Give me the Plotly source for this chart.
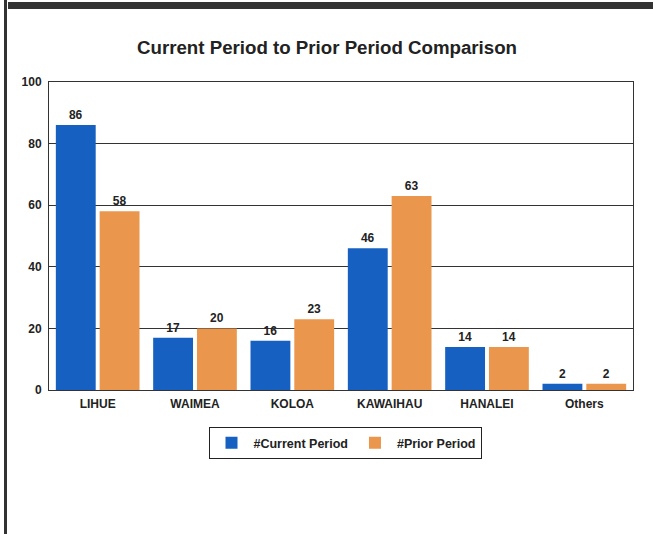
import plotly.graph_objects as go

# data
districts = ["LIHUE", "WAIMEA", "KOLOA", "KAWAIHAU", "HANALEI", "Others"]
current_period = [86, 17, 16, 46, 14, 2]
prior_period = [58, 20, 23, 63, 14, 2]

W, H = 653, 534
ml, mr, mt, mb = 49, 20, 82, 144
pw, ph = W - ml - mr, H - mt - mb


# pixel -> paper helpers for the frame decorations
def px_x(x):
    return (x - ml) / pw


def px_y(y):
    return (H - mb - y) / ph


fig = go.Figure()
fig.add_trace(
    go.Bar(
        x=districts,
        y=current_period,
        name="#Current Period",
        marker=dict(color="#1660c2", line=dict(width=0)),
        text=current_period,
        textposition="outside",
        textfont=dict(size=12, color="#222", weight="bold"),
        cliponaxis=False,
    )
)
fig.add_trace(
    go.Bar(
        x=districts,
        y=prior_period,
        name="#Prior Period",
        marker=dict(color="#ea964c", line=dict(width=0)),
        text=prior_period,
        textposition="outside",
        textfont=dict(size=12, color="#222", weight="bold"),
        cliponaxis=False,
    )
)

fig.update_layout(
    width=W,
    height=H,
    margin=dict(l=ml, r=mr, t=mt, b=mb),
    paper_bgcolor="white",
    plot_bgcolor="white",
    font=dict(family="Liberation Sans, Arial, sans-serif", color="#222"),
    title=dict(
        text="Current Period to Prior Period Comparison",
        x=327 / W,
        xanchor="center",
        y=1 - 47 / H,
        yanchor="middle",
        font=dict(size=18.7, color="#222", weight="bold"),
    ),
    barmode="group",
    bargap=0.1,
    bargroupgap=0.09,
    legend=dict(
        orientation="h",
        x=px_x(345),
        xanchor="center",
        y=px_y(427),
        yanchor="top",
        bordercolor="#222",
        borderwidth=1,
        font=dict(size=12.5, weight="bold"),
        itemwidth=34,
    ),
    showlegend=True,
)

fig.update_yaxes(
    range=[0, 100],
    dtick=20,
    showgrid=True,
    gridcolor="#333",
    gridwidth=1,
    showline=True,
    linecolor="#333",
    linewidth=1,
    mirror=True,
    zeroline=False,
    tickfont=dict(size=12, weight="bold"),
    ticks="",
    ticklabelstandoff=4,
)
fig.update_xaxes(
    showline=True,
    linecolor="#333",
    linewidth=1,
    mirror=True,
    tickfont=dict(size=12, weight="bold"),
    ticks="",
    ticklabelstandoff=3,
)

# dark band on top and thin rule on the left, as in the scanned page
fig.add_shape(
    type="rect", xref="paper", yref="paper",
    x0=px_x(8), x1=px_x(W), y0=px_y(9), y1=px_y(2),
    fillcolor="#333", line=dict(width=0),
)
fig.add_shape(
    type="rect", xref="paper", yref="paper",
    x0=px_x(4), x1=px_x(7), y0=px_y(H), y1=px_y(0),
    fillcolor="#333", line=dict(width=0),
)

# drop the default page margin so the figure sits at the window corner
fig.write_html(
    "out.html",
    config={"displayModeBar": False},
    post_script="document.body.style.margin='0';",
)
